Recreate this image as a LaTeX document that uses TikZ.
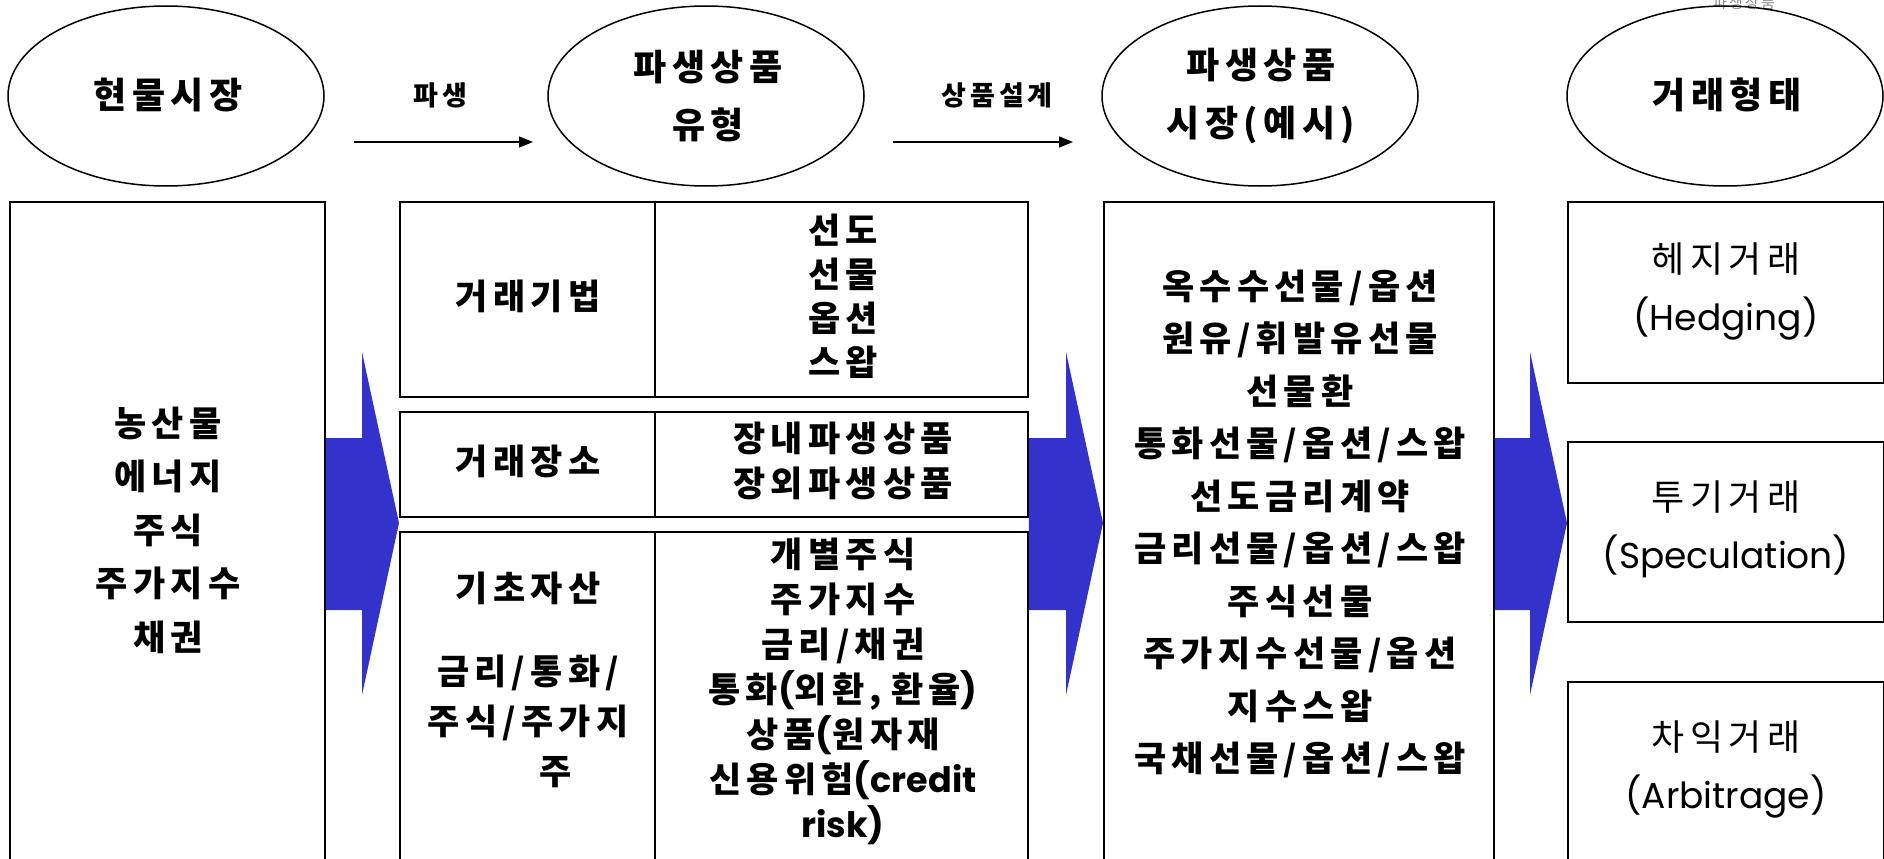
\documentclass[tikz,border=0pt]{standalone}
\usepackage{fontspec}
\setmainfont{Noto Sans CJK KR}[LetterSpace=15]
\newfontfamily\latfont{Poppins}
\newcommand{\ltn}[1]{{\latfont #1}}
\usetikzlibrary{shapes.geometric,arrows.meta}
\definecolor{arrowblue}{RGB}{51,51,204}
\begin{document}
\begin{tikzpicture}[x=1pt,y=-1pt,
  oval/.style={ellipse,draw,line width=1.5pt,minimum width=316pt,minimum height=180pt,inner sep=0pt},
  title/.style={align=center,inner sep=0pt,font=\fontsize{36}{58}\selectfont\bfseries},
  frame/.style={draw,line width=1.8pt,anchor=north west,inner sep=0pt},
  body/.style={align=center,inner sep=0pt,font=\fontsize{35}{#1}\selectfont\bfseries},
  body/.default=50,
  label/.style={inner sep=0pt,font=\fontsize{27}{30}\selectfont\bfseries},
  kind/.style={align=center,inner sep=0pt,font=\fontsize{36}{58}\selectfont},
  thin/.style={line width=1.3pt,-{Triangle[length=14pt,width=11pt]}},
  block/.style={fill=arrowblue,draw=none}
]
\useasboundingbox (0,0) rectangle (1884,859);

% faint mark at top
\node[inner sep=0pt,text=black!45,font=\fontsize{15}{15}\selectfont] (mark) at (1744,3) {파생상품};

% ellipses
\node[oval] (e1) at (166,96) {};
\node[oval] (e2) at (706,96) {};
\node[oval] (e3) at (1260,96) {};
\node[oval] (e4) at (1725,96) {};
\node[title] (t1) at (168,95) {현물시장};
\node[title] (t2) at (708,96) {파생상품\\유형};
\node[title] (t3) at (1261,96) {파생상품\\시장(예시)};
\node[title] (t4) at (1727,95) {거래형태};

% thin arrows
\coordinate (a1s) at (354,142);
\coordinate (a1e) at (533,142);
\coordinate (a2s) at (893,142);
\coordinate (a2e) at (1073,142);
\draw[thin] (a1s) -- (a1e);
\draw[thin] (a2s) -- (a2e);
\node[label] (l1) at (440,95) {파생};
\node[label] (l2) at (997,95) {상품설계};

% left box
\node[frame,minimum width=315pt,minimum height=690pt] (spot) at (9,201) {};
\node[body=53.5] (spottxt) at (168,530) {농산물\\에너지\\주식\\주가지수\\채권};

% middle table
\node[frame,minimum width=255pt,minimum height=195pt] (r1l) at (399,201) {};
\node[frame,minimum width=373pt,minimum height=195pt] (r1r) at (654,201) {};
\node[frame,minimum width=255pt,minimum height=105pt] (r2l) at (399,411) {};
\node[frame,minimum width=373pt,minimum height=105pt] (r2r) at (654,411) {};
\node[frame,minimum width=255pt,minimum height=360pt] (r3l) at (399,531) {};
\node[frame,minimum width=373pt,minimum height=360pt] (r3r) at (654,531) {};

\node[body] (m1l) at (528,296) {거래기법};
\node[body=44] (m1r) at (843,296) {선도\\선물\\옵션\\스왑};
\node[body] (m2l) at (528,461) {거래장소};
\node[body=45] (m2r) at (843,461) {장내파생상품\\장외파생상품};
\node[body] (m3l) at (528,588) {기초자산};
\node[body=50] (m3la) at (528,721) {금리/통화/\\주식/주가지\\\hspace*{56pt}주};
\node[body=45] (m3r) at (843,691) {개별주식\\주가지수\\금리/채권\\통화\ltn{(}외환,\hspace{-4pt} 환율\ltn{)}\\상품\ltn{(}원자재\\신용위험\ltn{(credit}\\\ltn{risk)}};

% market examples box
\node[frame,minimum width=390pt,minimum height=690pt] (mkt) at (1103,201) {};
\node[body=52.5] (mkttxt) at (1300,524) {옥수수선물/옵션\\원유/휘발유선물\\선물환\\통화선물/옵션/스왑\\선도금리계약\\금리선물/옵션/스왑\\주식선물\\주가지수선물/옵션\\지수스왑\\국채선물/옵션/스왑};

% trade type boxes
\node[frame,minimum width=316pt,minimum height=181pt] (b1) at (1567,201) {};
\node[frame,minimum width=316pt,minimum height=180pt] (b2) at (1567,441) {};
\node[frame,minimum width=316pt,minimum height=210pt] (b3) at (1567,681) {};
\node[kind] (k1) at (1726,291) {헤지거래\\\ltn{(Hedging)}};
\node[kind] (k2) at (1726,529) {투기거래\\\ltn{(Speculation)}};
\node[kind] (k3) at (1726,769) {차익거래\\\ltn{(Arbitrage)}};

% block arrows
\fill[block] (spot.east |- 0,438) -- (362,438) -- (362,352) -- (r3l.north west |- 0,523) -- (362,695) -- (362,610) -- (spot.east |- 0,610) -- cycle;
\fill[block] (r1r.east |- 0,438) -- (1066,438) -- (1066,352) -- (mkt.west |- 0,523) -- (1066,695) -- (1066,610) -- (r1r.east |- 0,610) -- cycle;
\fill[block] (mkt.east |- 0,438) -- (1530,438) -- (1530,352) -- (b2.west |- 0,523) -- (1530,695) -- (1530,610) -- (mkt.east |- 0,610) -- cycle;
\end{tikzpicture}
\end{document}
